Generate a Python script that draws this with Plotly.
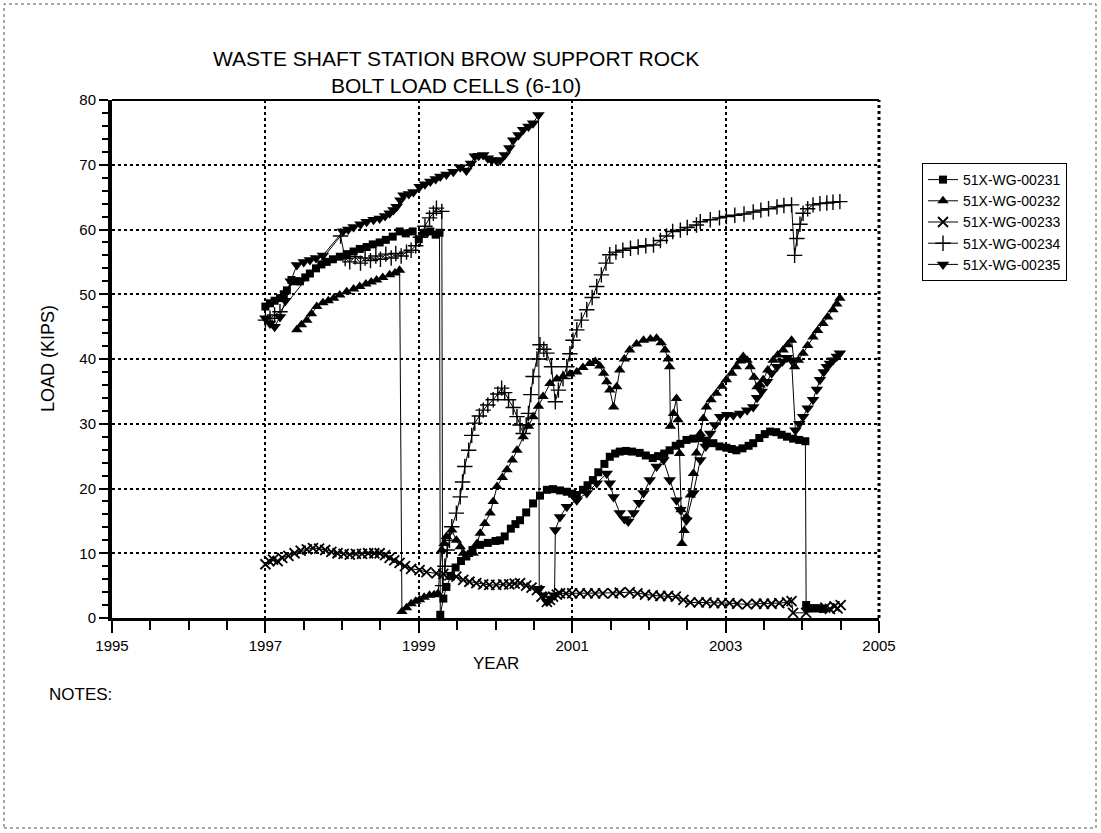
import plotly.graph_objects as go

# ---------------- data ----------------
yr_231 = [1997.00,1997.06,1997.12,1997.19,1997.24,1997.28,1997.34,1997.40,1997.45,1997.52,1997.58,1997.66,1997.73,1997.80,1997.88,1997.97,
          1998.06,1998.15,1998.23,1998.32,1998.40,1998.49,1998.57,1998.66,1998.75,1998.83,1998.92,1999.00,1999.08,1999.15,1999.22,1999.27,
          1999.28,1999.32,1999.36,1999.42,1999.48,1999.55,1999.62,1999.70,1999.80,1999.90,2000.00,2000.06,2000.12,2000.20,2000.26,2000.32,
          2000.40,2000.49,2000.58,2000.67,2000.75,2000.84,2000.93,2001.00,2001.06,2001.14,2001.20,2001.27,2001.34,2001.42,2001.49,2001.56,
          2001.62,2001.70,2001.78,2001.88,2001.96,2002.05,2002.12,2002.20,2002.27,2002.35,2002.41,2002.49,2002.58,2002.67,2002.75,2002.84,
          2002.92,2003.01,2003.08,2003.14,2003.22,2003.30,2003.36,2003.44,2003.51,2003.58,2003.66,2003.73,2003.80,2003.88,2003.96,2004.04,
          2004.05,2004.07,2004.12,2004.17,2004.22,2004.27]
ld_231 = [48.1,48.6,49.0,49.4,50.0,50.6,52.2,52.0,52.0,52.6,53.2,54.0,54.6,55.0,55.4,55.8,
          56.2,56.6,57.0,57.3,57.7,58.0,58.4,58.9,59.7,59.4,59.7,58.5,59.5,59.7,59.2,59.5,
          0.5,3.0,4.8,6.5,7.8,8.8,9.5,10.5,11.3,11.6,11.9,12.0,12.6,13.8,14.5,15.1,
          16.3,17.7,18.9,19.8,19.9,19.7,19.5,19.2,19.0,19.8,20.5,21.3,22.5,23.8,24.9,25.4,
          25.7,25.8,25.7,25.5,25.1,24.7,25.0,25.4,25.9,26.6,26.9,27.5,27.7,27.8,27.4,27.0,
          26.5,26.3,26.1,25.9,26.2,26.6,27.0,27.8,28.4,28.8,28.7,28.3,28.0,27.7,27.5,27.3,
          2.0,1.5,1.5,1.5,1.5,1.4]

yr_232 = [1997.41,1997.47,1997.54,1997.60,1997.67,1997.75,1997.82,1997.89,1997.97,1998.06,1998.15,1998.23,1998.31,1998.38,1998.45,1998.53,
          1998.62,1998.69,1998.75,1998.78,1998.84,1998.90,1998.96,1999.01,1999.07,1999.14,1999.20,1999.25,1999.30,1999.33,1999.36,1999.43,
          1999.49,1999.54,1999.58,1999.64,1999.71,1999.76,1999.80,1999.86,1999.93,1999.97,2000.02,2000.09,2000.15,2000.22,2000.28,2000.36,
          2000.43,2000.49,2000.56,2000.62,2000.71,2000.80,2000.88,2000.97,2001.06,2001.14,2001.23,2001.30,2001.36,2001.41,2001.45,2001.49,
          2001.54,2001.58,2001.62,2001.68,2001.75,2001.84,2001.93,2002.02,2002.10,2002.16,2002.21,2002.25,2002.27,2002.28,2002.32,2002.36,
          2002.38,2002.40,2002.42,2002.43,2002.46,2002.49,2002.54,2002.58,2002.62,2002.67,2002.71,2002.75,2002.81,2002.88,2002.95,2003.01,
          2003.08,2003.14,2003.19,2003.23,2003.28,2003.32,2003.37,2003.41,2003.45,2003.49,2003.55,2003.62,2003.68,2003.75,2003.81,2003.86,
          2003.90,2003.95,2004.01,2004.07,2004.14,2004.20,2004.27,2004.33,2004.40,2004.45,2004.49]
ld_232 = [44.5,45.3,46.0,47.0,48.1,48.7,49.0,49.4,49.9,50.4,50.8,51.2,51.6,51.9,52.2,52.6,
          53.0,53.3,53.7,1.0,1.6,2.2,2.6,2.8,3.2,3.5,3.6,3.8,10.5,11.5,12.6,13.6,
          12.0,11.0,10.0,9.8,10.0,11.5,13.1,14.6,16.2,18.0,20.3,21.7,22.9,24.4,25.9,28.0,
          29.6,31.1,32.7,34.2,36.2,36.9,37.3,37.7,38.0,38.7,39.3,39.6,38.9,37.8,36.5,35.2,
          32.6,35.7,38.3,40.0,41.4,42.3,42.9,43.1,43.2,42.5,41.4,40.0,38.8,29.6,31.6,33.9,
          30.6,25.4,16.7,11.5,13.5,15.6,19.0,22.3,25.5,28.5,30.8,32.6,33.7,34.7,35.8,36.8,
          37.8,38.8,39.7,40.4,39.8,38.8,37.2,35.7,36.0,36.8,38.3,39.8,40.6,41.4,42.2,42.9,
          38.8,39.8,40.9,42.1,43.4,44.4,45.5,46.5,47.6,48.5,49.4]

yr_233 = [1997.00,1997.05,1997.10,1997.16,1997.22,1997.30,1997.38,1997.46,1997.54,1997.62,1997.70,1997.78,1997.86,1997.94,1998.02,1998.10,
          1998.18,1998.26,1998.34,1998.42,1998.49,1998.56,1998.62,1998.68,1998.75,1998.82,1998.90,1999.01,1999.10,1999.23,1999.32,1999.40,
          1999.49,1999.58,1999.66,1999.75,1999.84,1999.92,2000.01,2000.10,2000.18,2000.25,2000.32,2000.40,2000.47,2000.54,2000.60,2000.67,
          2000.71,2000.75,2000.80,2000.84,2000.92,2001.00,2001.10,2001.20,2001.30,2001.40,2001.53,2001.62,2001.75,2001.85,2001.95,2002.05,
          2002.15,2002.25,2002.35,2002.45,2002.54,2002.65,2002.75,2002.85,2002.95,2003.05,2003.15,2003.28,2003.40,2003.50,2003.60,2003.70,
          2003.80,2003.86,2003.88,2004.05,2004.30,2004.36,2004.42,2004.46,2004.50]
ld_233 = [8.3,8.8,9.0,8.8,9.3,9.6,10.0,10.4,10.6,10.8,10.7,10.5,10.2,10.0,9.9,9.8,
          9.9,9.9,10.0,10.0,10.0,9.7,9.3,8.9,8.5,8.0,7.6,7.4,7.1,6.9,6.8,6.6,
          6.4,5.9,5.6,5.4,5.2,5.1,5.1,5.2,5.2,5.3,5.4,5.0,4.7,4.3,3.3,2.5,
          2.8,3.3,3.6,3.8,3.8,3.8,3.8,3.8,3.8,3.8,3.8,3.9,4.0,3.8,3.6,3.5,
          3.4,3.4,3.3,2.8,2.4,2.4,2.4,2.3,2.3,2.3,2.2,2.1,2.2,2.2,2.2,2.3,
          2.4,2.6,0.8,0.8,1.6,1.4,1.8,1.5,2.0]

yr_234 = [1997.00,1997.06,1997.12,1997.19,1997.98,1998.04,1998.10,1998.17,1998.24,1998.30,1998.37,1998.44,1998.50,1998.57,1998.64,1998.70,
          1998.77,1998.84,1998.90,1998.96,1999.02,1999.08,1999.14,1999.19,1999.23,1999.30,1999.31,1999.34,1999.37,1999.40,1999.43,1999.49,
          1999.54,1999.57,1999.60,1999.65,1999.69,1999.73,1999.79,1999.84,1999.90,1999.97,2000.03,2000.08,2000.12,2000.17,2000.23,2000.28,
          2000.32,2000.36,2000.40,2000.43,2000.46,2000.49,2000.54,2000.58,2000.63,2000.67,2000.73,2000.78,2000.82,2000.88,2000.93,2000.97,
          2001.01,2001.06,2001.12,2001.19,2001.26,2001.32,2001.38,2001.44,2001.49,2001.57,2001.66,2001.76,2001.86,2001.96,2002.06,2002.15,
          2002.23,2002.31,2002.41,2002.50,2002.62,2002.67,2002.80,2002.92,2003.01,2003.12,2003.24,2003.36,2003.46,2003.56,2003.67,2003.76,
          2003.86,2003.90,2003.93,2003.97,2004.01,2004.07,2004.14,2004.23,2004.32,2004.40,2004.49]
ld_234 = [46.0,46.3,46.8,47.3,59.0,55.5,55.0,55.8,54.8,55.6,55.2,55.9,55.4,56.2,55.6,56.3,
          55.9,56.5,56.8,57.5,58.8,60.5,61.8,62.5,63.3,62.8,5.0,8.0,10.5,12.0,14.1,16.2,
          18.7,21.0,23.4,25.9,28.2,30.1,31.2,32.1,32.9,33.7,34.6,35.5,34.8,33.7,32.5,31.1,
          29.8,28.5,29.8,31.6,34.5,37.3,40.0,42.2,41.5,40.9,38.8,33.4,35.2,37.0,38.8,40.8,
          42.9,44.5,46.0,47.6,49.5,51.2,53.0,54.8,56.1,56.5,56.8,57.1,57.3,57.5,57.6,58.3,
          59.0,59.7,59.9,60.3,60.7,61.2,61.5,61.8,62.0,62.2,62.4,62.7,63.0,63.2,63.5,63.7,
          63.8,56.0,58.6,60.8,62.5,63.2,63.8,64.0,64.1,64.2,64.3]

yr_235 = [1997.00,1997.06,1997.12,1997.19,1997.26,1997.33,1997.41,1997.50,1997.58,1997.66,1997.75,1998.01,1998.08,1998.15,1998.24,1998.32,
          1998.41,1998.49,1998.56,1998.62,1998.67,1998.71,1998.76,1998.80,1998.87,1998.93,1999.01,1999.08,1999.15,1999.22,1999.28,1999.36,
          1999.45,1999.54,1999.62,1999.68,1999.73,1999.78,1999.84,1999.90,1999.95,2000.01,2000.06,2000.12,2000.18,2000.23,2000.30,2000.36,
          2000.43,2000.49,2000.56,2000.57,2000.62,2000.67,2000.72,2000.77,2000.78,2000.84,2000.93,2001.06,2001.19,2001.32,2001.45,2001.49,
          2001.54,2001.62,2001.68,2001.73,2001.80,2001.87,2001.93,2002.01,2002.10,2002.19,2002.27,2002.36,2002.41,2002.49,2002.58,2002.67,
          2002.74,2002.80,2002.86,2002.93,2003.02,2003.10,2003.19,2003.28,2003.36,2003.41,2003.47,2003.54,2003.60,2003.67,2003.74,2003.80,
          2003.86,2003.91,2003.96,2004.01,2004.07,2004.14,2004.19,2004.23,2004.28,2004.32,2004.36,2004.40,2004.45,2004.49]
ld_235 = [46.3,45.5,45.0,46.5,49.0,52.0,54.5,55.0,55.3,55.6,56.0,59.7,60.0,60.4,60.8,61.2,
          61.5,61.7,62.1,62.5,63.0,63.5,64.5,65.3,65.5,65.8,66.6,67.0,67.4,67.8,68.2,68.5,
          68.9,69.6,69.1,70.2,71.3,71.4,71.5,71.0,70.7,70.7,70.7,71.5,72.6,73.8,74.6,75.4,
          75.9,76.4,77.7,4.5,3.5,2.5,3.0,3.5,13.6,15.6,17.2,18.2,19.3,20.8,22.3,20.8,
          18.7,16.2,15.3,14.9,16.2,17.8,19.3,21.3,23.4,24.4,21.3,18.2,16.7,15.1,19.3,24.4,
          26.5,28.5,29.8,31.1,31.4,31.3,31.6,32.1,32.6,34.0,35.0,36.5,37.8,38.8,39.6,40.2,
          39.8,29.0,30.0,31.1,32.4,33.7,35.3,36.8,38.0,38.8,39.3,39.8,40.4,40.9]

series_names = ["51X-WG-00231", "51X-WG-00232", "51X-WG-00233", "51X-WG-00234", "51X-WG-00235"]
x_ticks = [1995, 1997, 1999, 2001, 2003, 2005]
y_ticks = [0, 10, 20, 30, 40, 50, 60, 70, 80]

# ---------------- figure ----------------
FONT = "Arial, Liberation Sans, Helvetica, sans-serif"
W, H = 1101, 833
PL, PR, PT, PB = 112, 879, 100, 618

def fx(px):
    return (px - PL) / (PR - PL)

def fy(py):
    return (PB - py) / (PB - PT)

styles = [
    dict(symbol="square", size=8, line=dict(width=0)),
    dict(symbol="triangle-up", size=10, line=dict(width=0)),
    dict(symbol="x-thin", size=10, line=dict(width=1.8, color="black")),
    dict(symbol="cross-thin", size=11, line=dict(width=1.4, color="black")),
    dict(symbol="triangle-down", size=11, line=dict(width=0)),
]
data = [(yr_231, ld_231), (yr_232, ld_232), (yr_233, ld_233), (yr_234, ld_234), (yr_235, ld_235)]

fig = go.Figure()
for name, (xs, ys), st in zip(series_names, data, styles):
    fig.add_trace(go.Scatter(
        x=xs, y=ys, name=name, mode="lines+markers",
        line=dict(color="black", width=1),
        marker=dict(color="black", **st),
    ))

fig.update_layout(
    width=W, height=H, autosize=False,
    margin=dict(l=PL, r=W - PR, t=PT, b=H - PB, pad=0),
    paper_bgcolor="white", plot_bgcolor="white",
    font=dict(family=FONT, color="black", size=15),
    showlegend=True,
    legend=dict(x=fx(922), y=fy(163), xanchor="left", yanchor="top",
                bordercolor="black", borderwidth=1, bgcolor="white",
                font=dict(size=14, family=FONT), itemwidth=30,
                tracegroupgap=0),
)

fig.update_xaxes(
    range=[1995, 2005], tickvals=x_ticks, ticktext=[str(v) for v in x_ticks],
    showline=True, linecolor="black", linewidth=3,
    ticks="outside", ticklen=12, tickwidth=2, tickcolor="black",
    tickfont=dict(size=15, family=FONT),
    showgrid=True, gridcolor="black", gridwidth=1.5, griddash="dot",
    zeroline=False,
    minor=dict(dtick=0.5, tick0=1995, ticks="outside", ticklen=9, tickwidth=2,
               tickcolor="black", showgrid=False),
)
fig.update_yaxes(
    range=[0, 80], tickvals=y_ticks, ticktext=[str(v) for v in y_ticks],
    showline=True, linecolor="black", linewidth=4,
    ticks="outside", ticklen=9, tickwidth=2, tickcolor="black",
    tickfont=dict(size=15, family=FONT),
    showgrid=True, gridcolor="black", gridwidth=1.5, griddash="dot",
    zeroline=False,
    minor=dict(dtick=2, tick0=0, ticks="outside", ticklen=6, tickwidth=2,
               tickcolor="black", showgrid=False),
)

# frame: solid top, dotted right, dotted page border
fig.add_shape(type="line", xref="paper", yref="paper", x0=0, x1=1, y0=1, y1=1,
              line=dict(color="black", width=2))
fig.add_shape(type="line", xref="paper", yref="paper", x0=1, x1=1, y0=0, y1=1,
              line=dict(color="black", width=3, dash="dot"))
fig.add_shape(type="rect", xref="paper", yref="paper",
              x0=fx(4), x1=fx(1096), y0=fy(828), y1=fy(4),
              line=dict(color="#555555", width=1, dash="dot"))

# texts
fig.add_annotation(text="WASTE SHAFT STATION BROW SUPPORT ROCK<br>BOLT LOAD CELLS (6-10)",
                   xref="paper", yref="paper", x=fx(456), y=fy(72),
                   xanchor="center", yanchor="middle", showarrow=False,
                   font=dict(size=21, family=FONT, color="black"))
fig.add_annotation(text="LOAD (KIPS)", textangle=-90,
                   xref="paper", yref="paper", x=fx(48), y=fy(359),
                   xanchor="center", yanchor="middle", showarrow=False,
                   font=dict(size=18, family=FONT, color="black"))
fig.add_annotation(text="YEAR",
                   xref="paper", yref="paper", x=fx(496), y=fy(663),
                   xanchor="center", yanchor="middle", showarrow=False,
                   font=dict(size=17, family=FONT, color="black"))
fig.add_annotation(text="NOTES:",
                   xref="paper", yref="paper", x=fx(47), y=fy(694),
                   xanchor="left", yanchor="middle", showarrow=False,
                   font=dict(size=17, family=FONT, color="black"))

fig.write_html("out.html", config={"displayModeBar": False},
               post_script="document.body.style.margin='0px';")
